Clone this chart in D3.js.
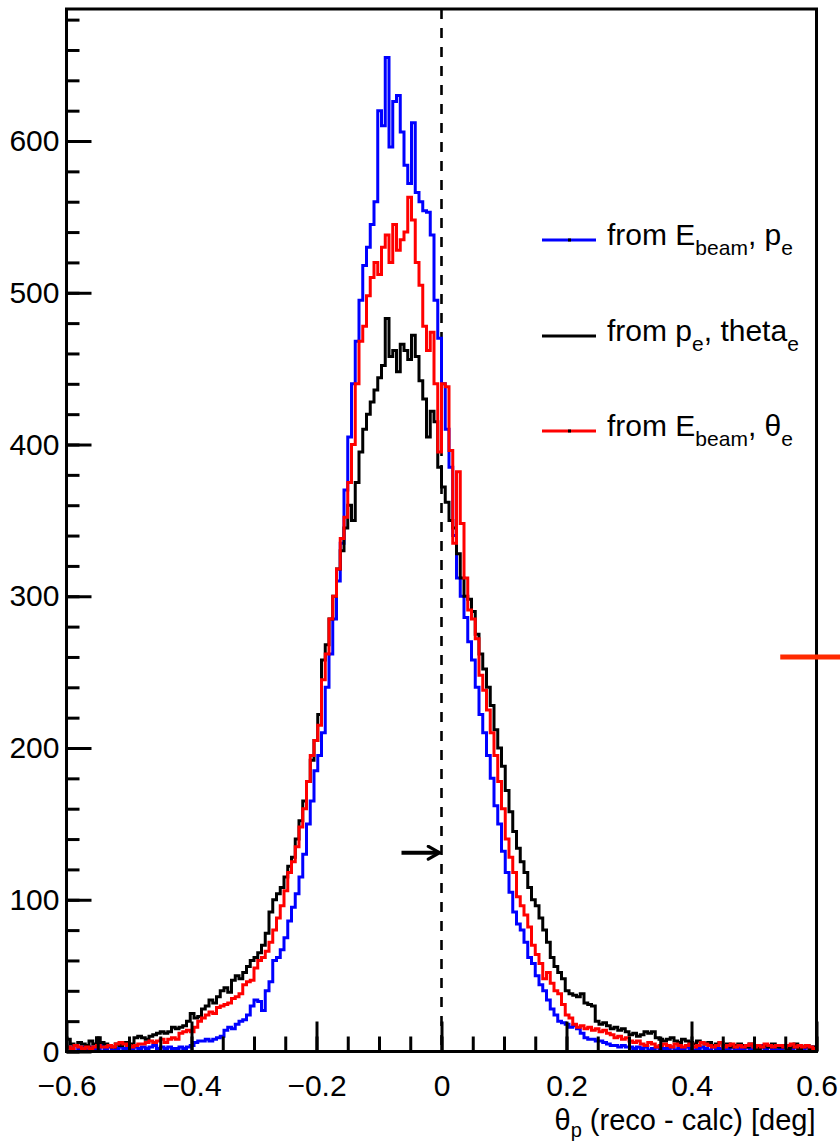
<!DOCTYPE html>
<html>
<head>
<meta charset="utf-8">
<script src="https://cdn.jsdelivr.net/npm/d3@7"></script>
<style>
  body { margin: 0; background: #fff; }
  svg text { font-family: "Liberation Sans", Arial, Helvetica, sans-serif; }
</style>
</head>
<body>
<div id="chart"></div>
<script>
// histogram binning: 200 bins from -0.6 to 0.6 deg
const xMin = -0.6, xMax = 0.6, nBins = 200;

// from E_beam, p_e
const blueCounts = [
  3,2,4,2,3,1,3,2,2,4,  2,3,1,2,3,2,4,2,3,2,
  3,2,3,4,2,3,2,3,2,2,  3,2,3,4,6,7,7,8,7,8,
  9,10,14,16,15,18,20,21,24,30,  34,33,27,40,46,60,62,67,75,86,
  95,104,115,130,150,165,185,195,210,240,  262,285,310,335,370,405,440,468,495,518,
  530,545,560,620,610,655,596,626,630,606,  584,572,612,566,560,554,553,538,495,470,
  440,410,385,340,312,300,286,270,258,240,  222,210,195,180,162,150,132,118,105,92,
  84,80,72,62,58,50,44,40,34,28,  24,20,19,18,16,17,15,12,9,8,
  8,7,7,6,5,4,4,3,4,3,  3,2,3,2,3,1,2,3,2,2,
  2,3,1,2,2,3,2,1,2,3,  2,1,3,2,2,1,2,3,1,2,
  2,3,2,1,2,4,2,3,2,1,  2,3,4,2,3,2,1,3,2,3
];

// from p_e, theta_e
const blackCounts = [
  8,5,4,6,5,4,7,5,9,6,  5,4,3,5,4,6,4,5,9,10,
  9,8,10,11,12,13,12,13,16,15,  16,17,20,25,22,23,28,30,34,32,
  36,40,42,39,47,50,48,52,56,60,  62,65,70,78,92,100,104,108,115,122,
  128,140,152,165,178,192,205,222,258,268,  285,300,318,330,345,360,350,375,395,410,
  420,428,436,444,452,483,458,462,448,466,  462,456,472,458,442,430,405,422,415,385,
  372,362,350,345,328,312,300,298,290,275,  262,252,240,228,212,200,188,172,158,145,
  134,125,118,108,100,96,88,80,72,62,  56,52,48,40,38,37,36,38,32,31,
  30,20,18,19,17,15,16,14,15,13,  11,12,10,11,13,12,13,9,8,7,
  8,9,7,6,8,7,6,5,7,6,  5,6,4,5,6,4,5,3,4,5,
  4,3,5,4,2,3,4,3,5,3,  3,4,2,3,5,2,3,4,2,3
];

// from E_beam, theta_e
const redCounts = [
  3,2,4,3,2,3,2,3,4,3,  3,4,3,5,6,5,4,3,4,5,
  5,6,7,6,7,8,6,8,9,8,  12,13,14,13,16,20,22,24,26,25,
  29,30,31,32,35,36,38,44,46,47,  55,60,62,66,72,80,88,96,106,118,
  125,135,148,160,178,195,205,215,245,262,  285,300,318,338,352,375,400,440,468,478,
  498,510,520,512,530,538,520,545,528,535,  540,563,548,520,505,478,462,474,440,395,
  440,438,396,335,382,348,312,291,285,272,  248,238,225,210,195,178,160,140,128,118,
  102,96,90,82,70,64,58,48,52,45,  40,38,31,24,22,18,16,17,15,16,
  14,15,13,14,12,11,9,10,8,9,  7,6,7,5,4,6,5,3,4,5,
  4,3,5,4,3,4,5,3,4,6,  5,4,3,4,6,3,4,5,3,4,
  3,4,5,3,4,3,5,4,3,4,  4,3,4,5,3,4,3,4,3,2
];

const yTickValues = [0, 100, 200, 300, 400, 500, 600];
const xTickValues = [-0.6, -0.4, -0.2, 0, 0.2, 0.4, 0.6];
const yMax = 687;
const arrowAt = { from: -0.064, to: 0, y: 131 };
const sideMarkY = 260;

const width = 840, height = 1141;
const plot = { left: 66.5, right: 816.5, top: 9, bottom: 1051.5 };

const svg = d3.select("#chart").append("svg")
  .attr("width", width)
  .attr("height", height);

const x = d3.scaleLinear().domain([xMin, xMax]).range([plot.left, plot.right]);
const y = d3.scaleLinear().domain([0, yMax]).range([plot.bottom, plot.top]);

const binW = (xMax - xMin) / nBins;

// step outline like ROOT "HIST"
function stepPath(counts) {
  const pts = counts.map((c, i) => [xMin + i * binW, c]);
  pts.push([xMax, counts[counts.length - 1]]);
  return d3.line()
    .x(d => x(d[0]))
    .y(d => y(d[1]))
    .curve(d3.curveStepAfter)(pts);
}

const hists = [
  { name: "blue", color: "#0000ff", counts: blueCounts },
  { name: "black", color: "#000000", counts: blackCounts },
  { name: "red", color: "#ff0000", counts: redCounts }
];

// dashed line at 0
svg.append("line")
  .attr("x1", x(0)).attr("x2", x(0))
  .attr("y1", plot.top).attr("y2", plot.bottom)
  .attr("stroke", "#000")
  .attr("stroke-width", 2.6)
  .attr("stroke-dasharray", "10,9");

svg.append("g").selectAll("path")
  .data(hists)
  .enter()
  .append("path")
  .attr("d", d => stepPath(d.counts))
  .attr("fill", "none")
  .attr("stroke", d => d.color)
  .attr("stroke-width", 3)
  .attr("stroke-linejoin", "miter");

// axes
const yMinor = d3.range(0, yMax, 20);
const xMinor = d3.range(-0.6, 0.6001, 0.05);

svg.append("g")
  .attr("transform", "translate(" + plot.left + ",0)")
  .call(d3.axisLeft(y).tickValues(yMinor).tickSize(-13).tickFormat(""))
  .call(g => g.select(".domain").remove());

const yAxis = svg.append("g")
  .attr("transform", "translate(" + plot.left + ",0)")
  .call(d3.axisLeft(y).tickValues(yTickValues).tickSize(-25).tickPadding(7).tickFormat(d3.format("d")));
yAxis.select(".domain").remove();

svg.append("g")
  .attr("transform", "translate(0," + plot.bottom + ")")
  .call(d3.axisBottom(x).tickValues(xMinor).tickSize(-15).tickFormat(""))
  .call(g => g.select(".domain").remove());

const xAxis = svg.append("g")
  .attr("transform", "translate(0," + plot.bottom + ")")
  .call(d3.axisBottom(x).tickValues(xTickValues).tickSize(-30).tickPadding(23)
    .tickFormat(d => d === 0 ? "0" : d3.format(".1f")(d)));
xAxis.select(".domain").remove();

svg.selectAll(".tick line").attr("stroke", "#000").attr("stroke-width", 3);
svg.selectAll(".tick text").attr("font-size", 30).attr("fill", "#000");

// frame
svg.append("rect")
  .attr("x", plot.left).attr("y", plot.top)
  .attr("width", plot.right - plot.left)
  .attr("height", plot.bottom - plot.top)
  .attr("fill", "none")
  .attr("stroke", "#000")
  .attr("stroke-width", 3);

// axis title
const title = svg.append("text")
  .attr("x", plot.right - 1)
  .attr("y", 1130)
  .attr("text-anchor", "end")
  .attr("font-size", 29);
title.append("tspan").text("θ");
title.append("tspan").attr("font-size", 20).attr("dy", 7).text("p");
title.append("tspan").attr("dy", -7).text(" (reco - calc) [deg]");

// arrow
svg.append("defs").append("marker")
  .attr("id", "head")
  .attr("viewBox", "0 0 10 10")
  .attr("refX", 9).attr("refY", 5)
  .attr("markerWidth", 4).attr("markerHeight", 4)
  .attr("markerUnits", "strokeWidth")
  .attr("orient", "auto")
  .append("path")
  .attr("d", "M2,1 L9,5 L2,9")
  .attr("fill", "none")
  .attr("stroke", "#000")
  .attr("stroke-width", 2)
  .attr("stroke-linecap", "round");

svg.append("line")
  .attr("x1", x(arrowAt.from)).attr("x2", x(arrowAt.to) - 2)
  .attr("y1", y(arrowAt.y)).attr("y2", y(arrowAt.y))
  .attr("stroke", "#000")
  .attr("stroke-width", 4)
  .attr("marker-end", "url(#head)");

// red mark at right edge
svg.append("line")
  .attr("x1", x(0.542)).attr("x2", width)
  .attr("y1", y(sideMarkY)).attr("y2", y(sideMarkY))
  .attr("stroke", "#ff2a00")
  .attr("stroke-width", 5);

// legend
const legend = [
  { color: "#0000ff", parts: [["from E", 0], ["beam", 1], [", p", 0], ["e", 1]], marker: true },
  { color: "#000000", parts: [["from p", 0], ["e", 1], [", theta", 0], ["e", 1]], marker: false },
  { color: "#ff0000", parts: [["from E", 0], ["beam", 1], [", θ", 0], ["e", 1]], marker: true }
];
const legendY = [240, 336, 431];

const lg = svg.append("g").selectAll("g")
  .data(legend)
  .enter()
  .append("g")
  .attr("transform", (d, i) => "translate(0," + legendY[i] + ")");

lg.append("line")
  .attr("x1", 542).attr("x2", 596)
  .attr("y1", 0).attr("y2", 0)
  .attr("stroke", d => d.color)
  .attr("stroke-width", 3);

lg.filter(d => d.marker).append("rect")
  .attr("x", 568).attr("y", -1.5)
  .attr("width", 3).attr("height", 3)
  .attr("fill", "#000");

lg.append("text")
  .attr("x", 607)
  .attr("y", 5)
  .attr("font-size", 30)
  .each(function(d) {
    const t = d3.select(this);
    let sub = 0;
    d.parts.forEach(p => {
      const dy = (p[1] ? 10 : 0) - sub;
      sub = p[1] ? 10 : 0;
      t.append("tspan")
        .attr("dy", dy)
        .attr("font-size", p[1] ? 21 : 30)
        .text(p[0]);
    });
  });
</script>
</body>
</html>
